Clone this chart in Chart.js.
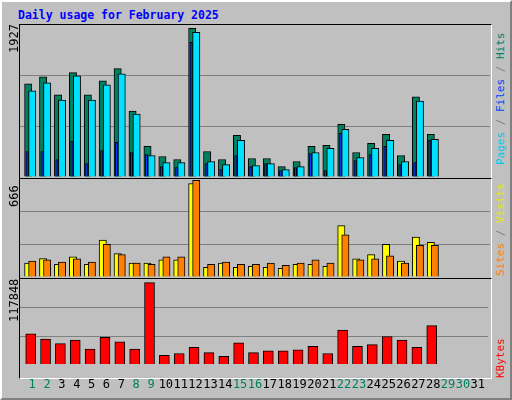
<!DOCTYPE html>
<html>
<head>
<meta charset="utf-8">
<script src="https://cdn.jsdelivr.net/npm/chart.js@4"></script>
<style>
  body { margin: 0; background: #fff; }
  #page { position: absolute; left: 0; top: 0; width: 508px; height: 396px; background: #c0c0c0;
    border-top: 2px solid #fff; border-left: 2px solid #fff; border-right: 2px solid #808080; border-bottom: 2px solid #808080; }
  .txt { position: absolute; font-family: "DejaVu Sans Mono", monospace; white-space: nowrap; }
  .rot { transform-origin: left top; transform: rotate(-90deg); }
  canvas { position: absolute; }
  .frame { position: absolute; border-top: 1px solid #000; border-left: 1px solid #000; border-right: 1px solid #fff; border-bottom: 1px solid #fff; }
</style>
</head>
<body>
<div id="page"></div>
<div class="txt" style="left:18px;top:8px;font-size:11.5px;font-weight:bold;color:#0000ff">Daily usage for February 2025</div>
<div class="frame" style="left:19px;top:24px;width:471px;height:153px"></div>
<div class="frame" style="left:19px;top:178px;width:471px;height:99px"></div>
<div class="frame" style="left:19px;top:278px;width:471px;height:99px"></div>
<canvas id="c1" width="470" height="152" style="left:20px;top:25px"></canvas>
<canvas id="c2" width="470" height="99" style="left:20px;top:178px"></canvas>
<canvas id="c3" width="470" height="118" style="left:20px;top:279px"></canvas>
<div class="txt rot" style="left:7px;top:53px;font-size:12px;color:#000">1927</div>
<div class="txt rot" style="left:7px;top:207px;font-size:12px;color:#000">666</div>
<div class="txt rot" style="left:7px;top:322px;font-size:12px;color:#000">117848</div>
<div class="txt rot" style="left:494px;top:165px;font-size:11px"><span style="color:#00c8e8">Pages</span><span style="color:#808080"> / </span><span style="color:#0040ff">Files</span><span style="color:#808080"> / </span><span style="color:#008060">Hits</span></div>
<div class="txt rot" style="left:494px;top:276px;font-size:11px"><span style="color:#ff8000">Sites</span><span style="color:#808080"> / </span><span style="color:#e8e800">Visits</span></div>
<div class="txt rot" style="left:494px;top:378px;font-size:11px;color:#ff0000">KBytes</div>
<script>
const days = Array.from({ length: 31 }, (_, i) => i + 1);
const weekendDays = [1, 2, 8, 9, 15, 16, 22, 23, 29, 30];
const hits = [1208, 1299, 1064, 1352, 1064, 1247, 1404, 855, 397, 266, 227, 1927, 331, 227, 541, 240, 240, 135, 201, 397, 410, 684, 318, 436, 554, 279, 1038, 554];
const pages = [1116, 1221, 998, 1312, 998, 1194, 1338, 815, 279, 187, 187, 1875, 201, 161, 475, 148, 174, 96, 135, 318, 371, 619, 253, 371, 475, 201, 985, 488];
const files = [331, 331, 227, 462, 174, 344, 449, 318, 292, 135, 122, 1744, 174, 96, 279, 135, 174, 83, 122, 305, 83, 567, 214, 292, 397, 161, 187, 475];
const visits = [93, 124, 86, 136, 86, 248, 157, 93, 93, 115, 115, 629, 65, 93, 65, 72, 65, 58, 86, 86, 72, 346, 122, 150, 220, 107, 269, 234];
const sites = [107, 115, 100, 122, 100, 220, 150, 93, 86, 136, 136, 650, 86, 100, 86, 86, 93, 79, 93, 115, 93, 283, 115, 122, 143, 93, 213, 213];
const kbytes = [44290, 36550, 30100, 35260, 22360, 39130, 32680, 22360, 117820, 13330, 15910, 24940, 17200, 12040, 31390, 17200, 19780, 19780, 21070, 26230, 15910, 49450, 26230, 28810, 40420, 35260, 24940, 55900];

function pts(values, shift) {
  return values.map((v, i) => ({ x: i + 1 + shift, y: v }));
}

function bar(values, shift, color, width, order) {
  return {
    data: pts(values, shift), backgroundColor: color, borderColor: '#000', borderWidth: 1,
    barThickness: width, grouped: false, order: order, borderSkipped: 'bottom'
  };
}

function makeChart(id, datasets, yMax, showDays) {
  new Chart(document.getElementById(id), {
    type: 'bar',
    data: { datasets: datasets },
    options: {
      responsive: false, animation: false,
      layout: { padding: 0 },
      plugins: { legend: { display: false }, tooltip: { enabled: false } },
      scales: {
        x: {
          type: 'linear', min: 0.18, max: 31.7, offset: false, display: showDays,
          grid: { display: false }, border: { display: false },
          afterBuildTicks: s => { s.ticks = days.map(d => ({ value: d })); },
          ticks: {
            autoSkip: false, maxRotation: 0, padding: 5,
            font: { family: 'DejaVu Sans Mono', size: 12 },
            color: c => weekendDays.includes(c.tick.value) ? '#008060' : '#000'
          }
        },
        y: {
          min: 0, max: yMax,
          afterBuildTicks: s => { s.ticks = [0, 1, 2, 3].map(k => ({ value: yMax * k / 3 })); },
          afterFit: s => { s.width = 0; },
          ticks: { display: false },
          grid: { color: c => (c.index === 1 || c.index === 2) ? '#808080' : 'rgba(0,0,0,0)', drawTicks: false },
          border: { display: false }
        }
      }
    }
  });
}

makeChart('c1', [
  bar(files, -0.34, '#0040ff', 2.5, 1),
  bar(pages, 0, '#00e0ff', 7.3, 2),
  bar(hits, -0.27, '#008060', 7.3, 3)
], 1970, false);

makeChart('c2', [
  bar(sites, 0, '#ff8000', 7.3, 1),
  bar(visits, -0.27, '#ffff00', 7.3, 2)
], 666, false);

makeChart('c3', [
  bar(kbytes, -0.1, '#ff0000', 10, 1)
], 122980, true);
</script>
</body>
</html>
